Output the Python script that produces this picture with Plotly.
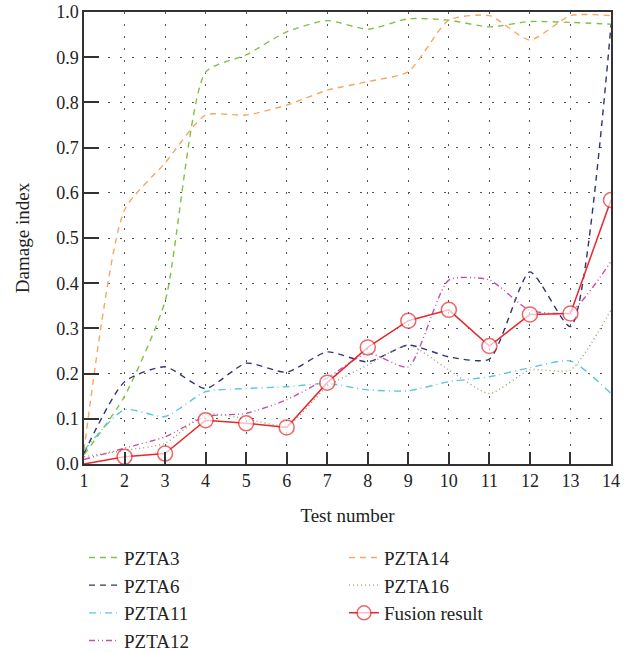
import plotly.graph_objects as go

tests = list(range(1, 15))
pzta3 = [0.02, 0.15, 0.36, 0.867, 0.905, 0.956, 0.981, 0.962, 0.985, 0.982, 0.967, 0.979, 0.977, 0.973]
pzta6 = [0.024, 0.182, 0.215, 0.167, 0.223, 0.203, 0.248, 0.226, 0.263, 0.237, 0.232, 0.425, 0.304, 0.971]
pzta11 = [0.03, 0.12, 0.105, 0.16, 0.167, 0.171, 0.178, 0.164, 0.162, 0.182, 0.193, 0.213, 0.228, 0.156]
pzta12 = [0.01, 0.035, 0.06, 0.105, 0.112, 0.142, 0.19, 0.245, 0.215, 0.407, 0.407, 0.34, 0.337, 0.448]
pzta14 = [0.03, 0.562, 0.666, 0.772, 0.772, 0.794, 0.827, 0.846, 0.868, 0.982, 0.992, 0.938, 0.992, 0.992]
pzta16 = [0.016, 0.03, 0.046, 0.11, 0.1, 0.085, 0.171, 0.219, 0.263, 0.208, 0.156, 0.208, 0.208, 0.341]
fusion = [0.0, 0.016, 0.023, 0.097, 0.09, 0.081, 0.18, 0.258, 0.317, 0.341, 0.261, 0.331, 0.333, 0.584]

FONT = "Liberation Serif"
fig = go.Figure()

series = [
    ("PZTA3", pzta3, "#80c342", "6px,5px", 1),
    ("PZTA6", pzta6, "#2e3575", "6px,5px", 3),
    ("PZTA11", pzta11, "#5cc8dc", "7px,4px,1px,4px", 5),
    ("PZTA12", pzta12, "#c94fa6", "6px,3px,1px,3px,1px,3px", 7),
    ("PZTA14", pzta14, "#f7a660", "6px,5px", 2),
    ("PZTA16", pzta16, "#9c9c6c", "1px,3px", 4),
]
for name, ys, col, dash, rank in series:
    fig.add_trace(go.Scatter(
        x=tests, y=ys, name=name, mode="lines",
        line=dict(color=col, width=1.4, dash=dash, shape="spline", smoothing=0.6),
        legendrank=rank,
    ))

fig.add_trace(go.Scatter(
    x=tests, y=fusion, name="Fusion result", mode="lines+markers",
    line=dict(color="#e8262b", width=1.5),
    marker=dict(symbol="circle", size=[0] + [15] * 13, color="white",
                line=dict(color="#e8262b", width=1.5)),
    legendrank=6,
))

axis_common = dict(
    showline=True, linecolor="#333333", linewidth=1.5, mirror=True,
    ticks="inside", tickcolor="#333333", tickwidth=1.5,
    showgrid=True, gridcolor="#555555", gridwidth=1, griddash="2px,10px",
    zeroline=False,
    tickfont=dict(family=FONT, size=18, color="#222222"),
    title_font=dict(family=FONT, size=19, color="#222222"),
)

fig.update_xaxes(range=[1, 14], tickvals=tests, ticklen=12,
                 title_text="Test number", title_standoff=18, **axis_common)
fig.update_yaxes(range=[0, 1], dtick=0.1, tickformat=".1f", ticklen=15,
                 title_text="Damage index", title_standoff=22, **axis_common)

fig.update_layout(
    width=629, height=652,
    margin=dict(l=84, r=18, t=12, b=188, autoexpand=False),
    plot_bgcolor="white", paper_bgcolor="white",
    showlegend=True,
    legend=dict(
        orientation="h", x=0, xanchor="left", y=-0.165, yanchor="top",
        entrywidth=215, entrywidthmode="pixels",
        font=dict(family=FONT, size=19, color="#222222"),
        tracegroupgap=0, bgcolor="rgba(0,0,0,0)",
    ),
)

fig.write_html("out.html")
